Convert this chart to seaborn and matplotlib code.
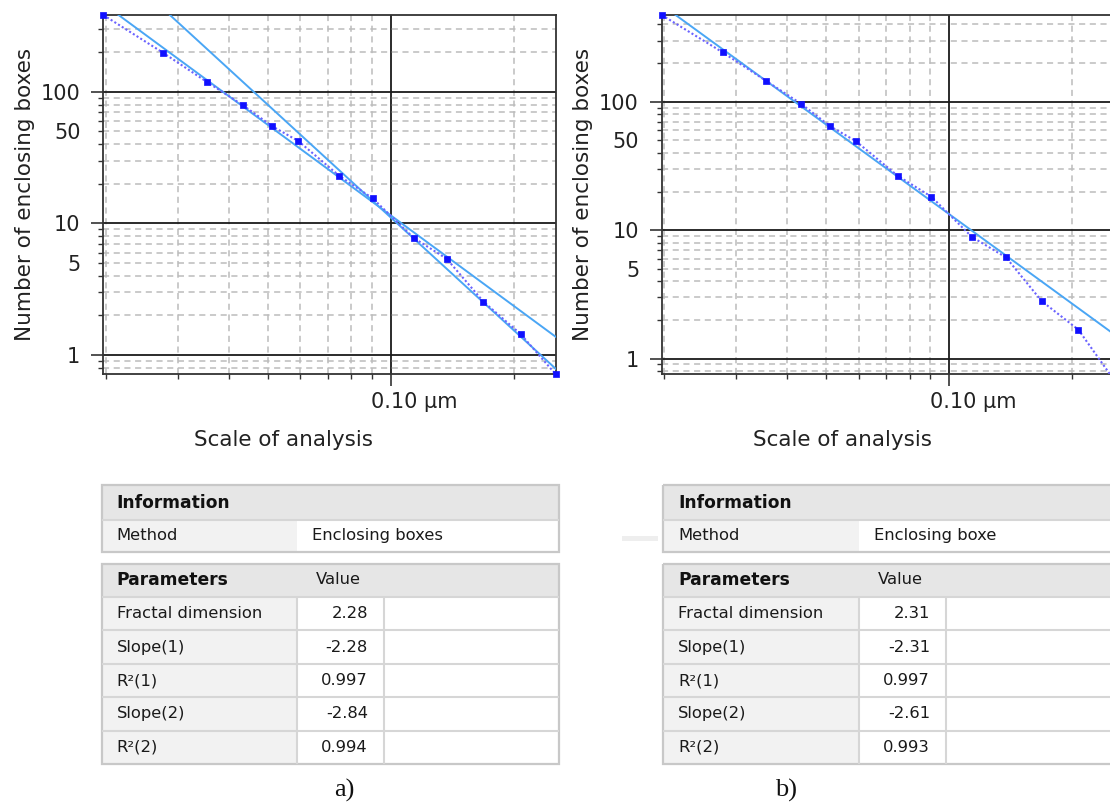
import numpy as np
import pandas as pd
import matplotlib
matplotlib.use("Agg")
import matplotlib.pyplot as plt
import matplotlib.ticker as mticker
from matplotlib.transforms import offset_copy, blended_transform_factory
from matplotlib.patches import Rectangle
import seaborn as sns

# ---------------- data ----------------
scale_a = [0.0197, 0.0276, 0.0354, 0.0434, 0.0512, 0.0593, 0.0748, 0.0902,
           0.1138, 0.1370, 0.1687, 0.2082, 0.2537]
boxes_a = [383, 198, 118.5, 78.8, 54.6, 42.2, 22.9, 15.5,
           7.74, 5.39, 2.54, 1.44, 0.713]
scale_b = [0.0197, 0.0278, 0.0355, 0.0433, 0.0511, 0.0590, 0.0748, 0.0905,
           0.1137, 0.1380, 0.1688, 0.2076, 0.2537]
boxes_b = [474, 242.7, 145.8, 96.5, 64.3, 49.4, 26.5, 18.2,
           8.87, 6.13, 2.80, 1.68, 0.685]
ylim_b = (0.754, 474)

# fitted power-law lines: slope and log10(N) at scale 0.1
fit_slopes_a = [-2.28, -2.84]
fit_log_at_01_a = [1.060, 1.0436]
fit_slopes_b = [-2.31]
fit_log_at_01_b = [1.125]

x_tick_label = "0.10 µm"
x_label = "Scale of analysis"
y_label = "Number of enclosing boxes"

info_header = "Information"
info_names = ["Method"]
info_values_a = ["Enclosing boxes"]
info_values_b = ["Enclosing boxe"]
param_header = ["Parameters", "Value"]
param_names = ["Fractal dimension", "Slope(1)", "R²(1)", "Slope(2)", "R²(2)"]
param_values_a = ["2.28", "-2.28", "0.997", "-2.84", "0.994"]
param_values_b = ["2.31", "-2.31", "0.997", "-2.61", "0.993"]
captions = ["a)", "b)"]

# ---------------- style ----------------
sns.set_style("white")
plt.rcParams['font.family'] = ['DejaVu Sans']
TXT = '#222222'

W, H = 1110, 805
fig = plt.figure(figsize=(W / 100, H / 100), dpi=100)

ax_a = fig.add_axes([103.3 / W, 1 - 374.3 / H, (555.7 - 103.3) / W, (374.3 - 15) / H])
ax_b = fig.add_axes([661.7 / W, 1 - 374.3 / H, (1113.8 - 661.7) / W, (374.3 - 15) / H])

DOT_COL = '#6b63ff'
MK_COL = '#1010ff'
FIT_COL = '#4aa6f5'


def draw_panel(ax, xs, ys, slopes, logs01, ylim):
    df = pd.DataFrame({"scale": xs, "boxes": ys})
    ax.set_xscale('log')
    ax.set_yscale('log')
    xlim = (min(xs), max(xs))
    ax.set_xlim(xlim)
    ax.set_ylim(ylim)
    xx = np.geomspace(xlim[0] * 0.95, xlim[1] * 1.05, 60)
    for m, c in zip(slopes, logs01):
        yy = 10 ** (c + m * (np.log10(xx) + 1))
        sns.lineplot(x=xx, y=yy, ax=ax, color=FIT_COL, lw=1.4, sort=False, zorder=3)
    sns.lineplot(data=df, x="scale", y="boxes", ax=ax, color=DOT_COL, lw=1.5,
                 linestyle=(0, (1, 1.1)), zorder=4)
    sns.scatterplot(data=df, x="scale", y="boxes", ax=ax, marker='s', s=17,
                    color=MK_COL, edgecolor=MK_COL, linewidth=0.5, zorder=5, clip_on=False)
    ax.set_xlim(xlim)
    ax.set_ylim(ylim)

    ax.xaxis.set_major_locator(mticker.FixedLocator([0.1]))
    ax.xaxis.set_minor_locator(mticker.LogLocator(base=10, subs=np.arange(2, 10), numticks=30))
    ax.xaxis.set_major_formatter(mticker.NullFormatter())
    ax.xaxis.set_minor_formatter(mticker.NullFormatter())
    ax.yaxis.set_major_locator(mticker.LogLocator(base=10, subs=[1.0], numticks=30))
    ax.yaxis.set_minor_locator(mticker.LogLocator(base=10, subs=np.arange(2, 10), numticks=30))
    ax.yaxis.set_major_formatter(mticker.FuncFormatter(lambda v, p: f"{v:g}"))

    def minor_fmt(v, p):
        mant = v / 10 ** np.floor(np.log10(v) + 1e-9)
        return f"{v:g}" if abs(mant - 5) < 1e-6 else ""
    ax.yaxis.set_minor_formatter(mticker.FuncFormatter(minor_fmt))

    ax.grid(which='major', color='#1a1a1a', lw=1.3, ls='-')
    ax.grid(which='minor', color='#bcbcbc', lw=1.1, ls=(0, (4, 3)))
    ax.set_axisbelow(True)

    ax.tick_params(which='both', bottom=True, left=True, top=False, right=False)
    ax.tick_params(which='major', axis='both', length=8.5, width=1.2, color='#333333',
                   labelsize=15, labelcolor=TXT, direction='out')
    ax.tick_params(which='minor', axis='both', length=3.6, width=1.0, color='#333333',
                   labelsize=15, labelcolor=TXT, direction='out')
    ax.tick_params(which='major', axis='y', pad=8)
    ax.tick_params(which='minor', axis='y', pad=12.5)
    for s in ax.spines.values():
        s.set_color('#333333')
        s.set_linewidth(1.3)

    ax.set_xlabel(x_label, fontsize=15.5, color=TXT)
    ax.set_ylabel(y_label, fontsize=15.5, color=TXT)
    ax.xaxis.label.set_verticalalignment('center')
    ax.yaxis.label.set_verticalalignment('center')
    ax.xaxis.set_label_coords(0.399, -0.183)
    ax.yaxis.set_label_coords(-0.173, 0.5)

    tr = blended_transform_factory(ax.transData, ax.transAxes)
    tr = offset_copy(tr, fig=fig, x=-19.5, y=0, units='dots')
    ax.text(0.1, -0.077, x_tick_label, transform=tr, ha='left', va='center',
            fontsize=15, color=TXT, clip_on=False)


draw_panel(ax_a, scale_a, boxes_a, fit_slopes_a, fit_log_at_01_a, (min(boxes_a), max(boxes_a)))
draw_panel(ax_b, scale_b, boxes_b, fit_slopes_b, fit_log_at_01_b, ylim_b)

# ---------------- tables ----------------
ov = fig.add_axes([0, 0, 1, 1], zorder=-1)
ov.set_xlim(0, W)
ov.set_ylim(H, 0)
ov.axis('off')

HDR = '#e6e6e6'
LAB = '#f2f2f2'
BRD = '#c8c8c8'
INN = '#d6d6d6'
TFS = 11.8


def rect(x, y, w, h, fc, ec='none', lw=0):
    ov.add_patch(Rectangle((x, y), w, h, facecolor=fc, edgecolor=ec, lw=lw))


def hline(x0, x1, y, col=INN, lw=1.5):
    ov.plot([x0, x1], [y, y], color=col, lw=lw, solid_capstyle='butt')


def vline(x, y0, y1, col=INN, lw=1.5):
    ov.plot([x, x], [y0, y1], color=col, lw=lw, solid_capstyle='butt')


def draw_table(x0, x1, c1, c2, method_vals, values):
    # information block
    t0, t1, t2 = 485, 520, 552
    rect(x0, t0, x1 - x0, t1 - t0, HDR)
    rect(x0, t1, c1 - x0, t2 - t1, LAB)
    rect(c1, t1, x1 - c1, t2 - t1, 'white')
    hline(x0, x1, t1)
    rect(x0, t0, x1 - x0, t2 - t0, 'none', BRD, 1.6)
    ov.text(x0 + 15, (t0 + t1) / 2, info_header, fontsize=12.3, weight='bold', color='#111111', va='center')
    for i, (nm, vv) in enumerate(zip(info_names, method_vals)):
        yc = (t1 + t2) / 2 - 1
        ov.text(x0 + 15, yc, nm, fontsize=TFS, color='#1a1a1a', va='center')
        ov.text(c1 + 14.5, yc, vv, fontsize=TFS, color='#1a1a1a', va='center')

    # parameters block
    p0, p1 = 564, 597
    rh = 33.4
    n = len(param_names)
    pb = p1 + n * rh
    rect(x0, p0, x1 - x0, p1 - p0, HDR)
    rect(x0, p1, c1 - x0, pb - p1, LAB)
    rect(c1, p1, x1 - c1, pb - p1, 'white')
    ov.text(x0 + 15, (p0 + p1) / 2 - 1, param_header[0], fontsize=12.3, weight='bold', color='#111111', va='center')
    ov.text(c1 + 18.5, (p0 + p1) / 2 - 1, param_header[1], fontsize=TFS, color='#1a1a1a', va='center')
    for i in range(n):
        hline(x0, x1, p1 + i * rh)
    vline(c1, p1, pb)
    vline(c2, p1, pb)
    rect(x0, p0, x1 - x0, pb - p0, 'none', BRD, 1.6)
    for i, (nm, vv) in enumerate(zip(param_names, values)):
        yc = p1 + (i + 0.5) * rh
        ov.text(x0 + 15, yc, nm, fontsize=TFS, color='#1a1a1a', va='center')
        ov.text(c2 - 16, yc, vv, fontsize=TFS, color='#1a1a1a', va='center', ha='right')


draw_table(101.7, 559.3, 297.3, 384, info_values_a, param_values_a)
draw_table(663.3, 1125, 859, 946, info_values_b, param_values_b)

# faint artefact left of second table
rect(622, 536, 36, 5, '#eeeeee')

ov.text(344, 790, captions[0], fontsize=19, family='Liberation Serif', color='#111111', ha='center', va='center')
ov.text(786, 790, captions[1], fontsize=19, family='Liberation Serif', color='#111111', ha='center', va='center')

fig.savefig("out.png", dpi=100, facecolor='white')
